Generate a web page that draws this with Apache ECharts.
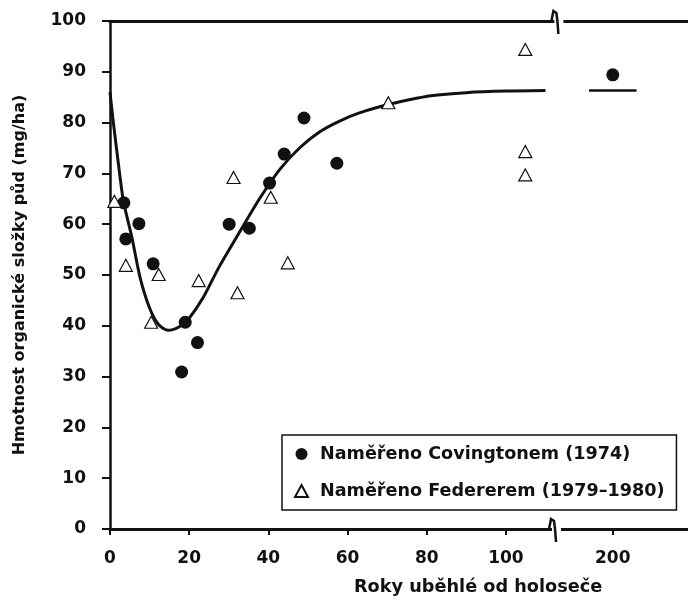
<!DOCTYPE html>
<html>
<head>
<meta charset="utf-8">
<script src="https://cdn.jsdelivr.net/npm/echarts@6/dist/echarts.min.js"></script>
<style>
  html, body { margin: 0; padding: 0; background: #fff; }
  #chart { width: 688px; height: 608px; }
</style>
</head>
<body>
<div id="chart"></div>
<script>
// years after clear-cut, organic mass (mg/ha)
const covingtonYears = [3.5, 4, 7.3, 10.9, 18.1, 19, 22.1, 30.1, 35.2, 40.3, 44, 49, 57.3, 200];
const covingtonMass = [64.2, 57.1, 60.1, 52.2, 30.9, 40.7, 36.7, 60, 59.2, 68.1, 73.8, 80.9, 72, 89.4];

const federerYears = [1.1, 4, 10.4, 12.3, 22.4, 31.2, 32.2, 40.6, 44.9, 70.3, 104.9, 104.9, 104.9];
const federerMass = [64.5, 51.9, 40.7, 50.1, 48.9, 69.2, 46.5, 65.3, 52.4, 83.9, 94.4, 74.3, 69.7];

const curveYears = [0, 0.7, 2.1, 3.4, 5.5, 7.6, 10, 12.2, 14.7, 17.5, 20, 23.5, 27.5, 33, 38, 43, 48, 53, 58, 63, 70, 75, 81, 90, 100, 110];
const curveMass = [86, 81, 72, 64.5, 57.5, 49.5, 43.5, 40.3, 39.1, 39.8, 41.5, 45.5, 51.5, 58.8, 65.3, 70.9, 75.1, 78.2, 80.3, 81.9, 83.5, 84.4, 85.3, 85.9, 86.2, 86.3];

const oldGrowthYears = [194, 206];
const oldGrowthMass = 86.3;

const xTickYears = [0, 20, 40, 60, 80, 100, 200];
const xTickLabels = ['0', '20', '40', '60', '80', '100', '200'];

const seriesNames = ['Naměřeno Covingtonem (1974)', 'Naměřeno Federerem (1979–1980)'];

// broken x axis: years up to breakYear are linear, then jump so 200 sits at farPos
const breakYear = 110;
const breakPos = 112;
const farYear = 200;
const farPos = 127;
function toAxis(year) {
  return year <= breakYear ? year : farPos + (year - farYear);
}

const font = 'DejaVu Sans';
const ink = '#111';

let chart = echarts.init(document.getElementById('chart'));

let pairs = (xs, ys) => xs.map((x, i) => [toAxis(x), ys[i]]);
let tickPos = xTickYears.map(toAxis);

let breakGlyph = (params, api) => {
  let p = api.coord([api.value(0), api.value(1)]);
  return {
    type: 'group',
    children: [
      {
        type: 'rect',
        shape: { x: p[0] + 1, y: p[1] - 3, width: 9, height: 6 },
        style: { fill: '#fff' },
      },
      {
        type: 'polyline',
        shape: {
          points: [
            [p[0] - 2, p[1]],
            [p[0], p[1] - 10],
            [p[0] + 3, p[1] - 8],
            [p[0] + 4, p[1]],
            [p[0] + 5, p[1] + 13],
          ],
        },
        style: { stroke: ink, lineWidth: 2.5, fill: null },
      },
    ],
  };
};

let option = {
  animation: false,
  backgroundColor: '#fff',
  textStyle: { fontFamily: font },
  grid: { left: 110, right: 0, top: 21, bottom: 79 },
  title: {
    text: 'Roky uběhlé od holoseče',
    left: 354,
    top: 578,
    padding: 0,
    textStyle: { fontFamily: font, fontWeight: 'bold', fontSize: 17.7, color: ink },
  },
  legend: {
    data: [
      { name: seriesNames[0], icon: 'circle' },
      { name: seriesNames[1], icon: 'triangle' },
    ],
    orient: 'vertical',
    left: 282,
    top: 435,
    padding: [10, 12, 10, 12],
    itemWidth: 13,
    itemHeight: 12,
    itemGap: 19,
    borderColor: ink,
    borderWidth: 1.5,
    backgroundColor: '#fff',
    textStyle: {
      fontFamily: font,
      fontWeight: 'bold',
      fontSize: 17.6,
      color: ink,
      lineHeight: 18,
      padding: [0, 0, 0, 7],
    },
  },
  xAxis: [
    {
      type: 'value',
      min: 0,
      max: 146,
      splitLine: { show: false },
      axisLine: { onZero: false, lineStyle: { color: ink, width: 3 } },
      axisTick: {
        customValues: tickPos,
        length: 6,
        lineStyle: { color: ink, width: 2 },
      },
      axisLabel: {
        customValues: tickPos,
        formatter: (v) => xTickLabels[tickPos.indexOf(v)] || '',
        margin: 21,
        fontFamily: font,
        fontWeight: 'bold',
        fontSize: 17,
        color: ink,
      },
    },
    {
      type: 'value',
      position: 'top',
      min: 0,
      max: 146,
      splitLine: { show: false },
      axisLine: { show: true, onZero: false, lineStyle: { color: ink, width: 3 } },
      axisTick: { show: false },
      axisLabel: { show: false },
    },
  ],
  yAxis: {
    type: 'value',
    min: 0,
    max: 100,
    interval: 10,
    name: 'Hmotnost organické složky půd (mg/ha)',
    nameLocation: 'middle',
    nameGap: 82,
    nameTextStyle: { fontFamily: font, fontWeight: 'bold', fontSize: 16, color: ink },
    splitLine: { show: false },
    axisLine: { show: true, onZero: false, lineStyle: { color: ink, width: 2.5 } },
    axisTick: { length: 8, lineStyle: { color: ink, width: 2 } },
    axisLabel: { margin: 24, fontFamily: font, fontWeight: 'bold', fontSize: 17, color: ink },
  },
  series: [
    {
      name: 'fit',
      type: 'line',
      data: pairs(curveYears, curveMass),
      smooth: 0.25,
      showSymbol: false,
      lineStyle: { color: ink, width: 3 },
      z: 3,
    },
    {
      name: 'fit200',
      type: 'line',
      data: oldGrowthYears.map((y) => [toAxis(y), oldGrowthMass]),
      showSymbol: false,
      lineStyle: { color: ink, width: 2.5 },
      z: 3,
    },
    {
      name: seriesNames[0],
      type: 'scatter',
      data: pairs(covingtonYears, covingtonMass),
      symbol: 'circle',
      symbolSize: 13,
      itemStyle: { color: ink, opacity: 1 },
      z: 4,
    },
    {
      name: seriesNames[1],
      type: 'scatter',
      data: pairs(federerYears, federerMass),
      symbol: 'triangle',
      symbolSize: [13, 12],
      itemStyle: { color: '#fff', borderColor: ink, borderWidth: 1.2, opacity: 1 },
      z: 5,
    },
    {
      name: 'breaks',
      type: 'custom',
      clip: false,
      xAxisIndex: 0,
      data: [[breakPos, 100], [breakPos - 0.6, 0]],
      renderItem: breakGlyph,
      z: 6,
    },
  ],
};
chart.setOption(option);
</script>
</body>
</html>
